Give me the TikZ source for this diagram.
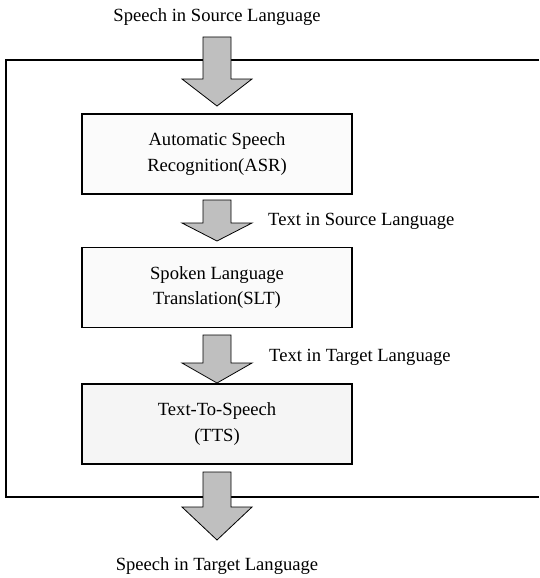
\documentclass[tikz,border=0pt]{standalone}
\usepackage{fontspec}
\setmainfont{Liberation Serif}
\begin{document}
\begin{tikzpicture}[x=1pt,y=-1pt,
  lbl/.style={inner sep=0pt,font=\fontsize{18.6}{22}\selectfont},
  stage/.style={draw,line width=1.2pt,minimum width=270pt,minimum height=80pt,inner sep=0pt,
    align=center,font=\fontsize{18.6}{25.5}\selectfont},
  blockarrow/.style={draw,line width=0.8pt,fill=gray!50,line join=miter}]
\useasboundingbox (0,0) rectangle (539,578);
% outer frame (open on the right, cut by the page)
\coordinate (ftr) at (539,60);
\coordinate (ftl) at (6,60);
\coordinate (fbl) at (6,497);
\coordinate (fbr) at (539,497);
\draw[line width=1.2pt] (ftr) -- (ftl) -- (fbl) -- (fbr);
% stages
\node[stage,fill=gray!3] (asr) at (217,154) {Automatic Speech\\Recognition(ASR)};
\node[stage,fill=gray!4] (slt) at (217,287.5) {Spoken Language\\Translation(SLT)};
\node[stage,fill=gray!8] (tts) at (217,424) {Text-To-Speech\\(TTS)};
% labels
\node[lbl] (src) at (217,17) {Speech in Source Language};
\node[lbl,anchor=west] (tsrc) at (268,221) {Text in Source Language};
\node[lbl,anchor=west] (ttgt) at (269,357) {Text in Target Language};
\node[lbl] (tgt) at (217,566) {Speech in Target Language};
% block arrows
\draw[blockarrow] (203,37) -- (231,37) -- (231,79) -- (252,79) -- (217,106) -- (182,79) -- (203,79) -- cycle;
\draw[blockarrow] (203,200) -- (231,200) -- (231,223) -- (252,223) -- (217,241) -- (182,223) -- (203,223) -- cycle;
\draw[blockarrow] (203,335) -- (231,335) -- (231,363) -- (252,363) -- (217,383) -- (182,363) -- (203,363) -- cycle;
\draw[blockarrow] (203,472) -- (231,472) -- (231,507) -- (252,507) -- (217,540) -- (182,507) -- (203,507) -- cycle;
\end{tikzpicture}
\end{document}
